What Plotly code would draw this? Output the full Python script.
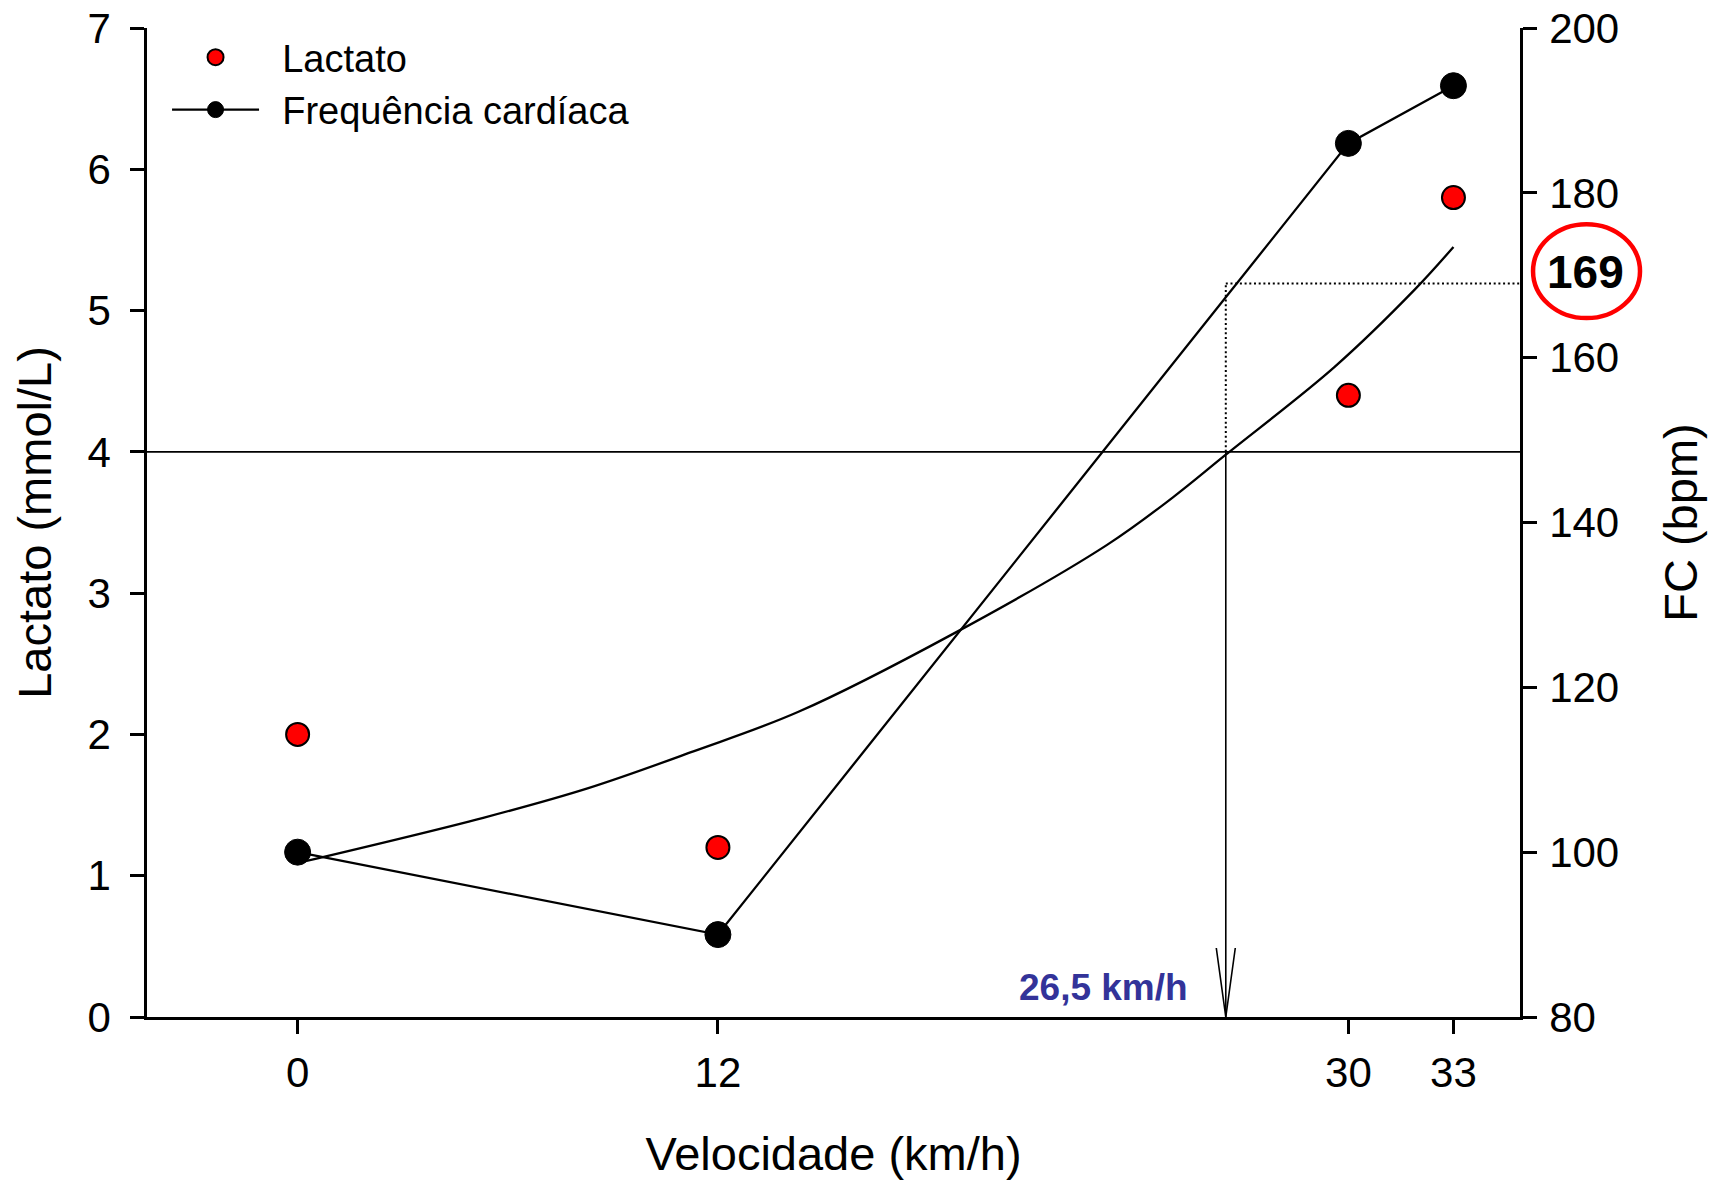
import plotly.graph_objects as go

# ---- data ----
speed = [0, 12, 30, 33]                      # km/h
lactate = [2.0, 1.2, 4.4, 5.8]               # mmol/L
heart_rate = [100, 90, 186, 193]             # bpm

# exponential fit of lactate as drawn in the reference
fit_speed = [0, 5.3, 8.3, 11.3, 14.3, 18.7, 23.1, 25.0, 26.5, 29.6, 31.9, 33.0]
fit_lactate = [1.09, 1.41, 1.62, 1.88, 2.16, 2.71, 3.34, 3.68, 3.98, 4.60, 5.15, 5.45]

threshold_lactate = 4.0
threshold_speed = 26.5
threshold_hr = 169

x_ticks = [0, 12, 30, 33]
y_ticks = [0, 1, 2, 3, 4, 5, 6, 7]
y2_ticks = [80, 100, 120, 140, 160, 180, 200]

X_RANGE = [-4.3, 34.9]
Y_RANGE = [0, 7]
Y2_RANGE = [80, 200]

FONT = "Arial, 'Liberation Sans', sans-serif"

fig = go.Figure()

fig.add_trace(go.Scatter(
    x=fit_speed, y=fit_lactate, mode="lines",
    line=dict(color="black", width=2.3, shape="spline", smoothing=1.0),
    showlegend=False, hoverinfo="skip"))

fig.add_trace(go.Scatter(
    x=speed, y=heart_rate, yaxis="y2", mode="lines+markers", name="\u00a0\u2009Frequência cardíaca",
    line=dict(color="black", width=2.3),
    marker=dict(color="black", size=26, line=dict(color="black", width=1)),
    legendrank=2))

fig.add_trace(go.Scatter(
    x=speed, y=lactate, mode="markers", name="\u00a0\u2009Lactato",
    marker=dict(color="#ff0000", size=23, line=dict(color="black", width=2)),
    legendrank=1))

# lactate = 4 converted to the right-hand axis scale
hr_at_threshold_lac = Y2_RANGE[0] + (threshold_lactate - Y_RANGE[0]) / (Y_RANGE[1] - Y_RANGE[0]) * (Y2_RANGE[1] - Y2_RANGE[0])

shapes = [
    # horizontal line at lactate 4
    dict(type="line", xref="paper", yref="y", x0=0, x1=1, y0=threshold_lactate, y1=threshold_lactate,
         line=dict(color="black", width=1.6)),
    # vertical solid line from lactate 4 to the x axis
    dict(type="line", xref="x", yref="y", x0=threshold_speed, x1=threshold_speed, y0=0, y1=threshold_lactate,
         line=dict(color="black", width=1.6)),
    # open arrow head at the x axis
    dict(type="path", xref="x", yref="y", xsizemode="pixel", ysizemode="pixel",
         xanchor=threshold_speed, yanchor=0, path="M-9.5,69 L0,0 L9.5,69",
         line=dict(color="black", width=1.6)),
    # dotted vertical up to the heart-rate line
    dict(type="line", xref="x", yref="y2", x0=threshold_speed, x1=threshold_speed,
         y0=hr_at_threshold_lac, y1=threshold_hr, line=dict(color="black", width=2, dash="2px,2.7px")),
    # dotted horizontal to the right axis
    dict(type="line", xref="x", yref="y2", x0=threshold_speed, x1=X_RANGE[1],
         y0=threshold_hr, y1=threshold_hr, line=dict(color="black", width=2, dash="2px,2.7px")),
    # red ellipse around 169
    dict(type="circle", xref="paper", yref="y2", x0=1.0095, x1=1.0874, y0=164.8, y1=176.2,
         line=dict(color="#ff0000", width=4.5)),
]

annotations = [
    dict(text="<b>26,5 km/h</b>", x=threshold_speed, y=0, xref="x", yref="y", xanchor="right", yanchor="bottom",
         xshift=-36, yshift=7.5, showarrow=False, font=dict(family=FONT, size=37, color="#333399")),
    dict(text="<b>%d</b>" % threshold_hr, x=1.048, y=threshold_hr, xref="paper", yref="y2",
         xanchor="center", yanchor="middle", yshift=11, showarrow=False,
         font=dict(family=FONT, size=46, color="black")),
]

axis_common = dict(showgrid=False, zeroline=False, showline=True, linecolor="black", linewidth=2.5,
                   ticks="outside", ticklen=14, tickwidth=2.5, tickcolor="black", automargin=False,
                   tickfont=dict(family=FONT, size=42, color="black"))

fig.update_layout(
    width=1713, height=1183,
    margin=dict(l=147, r=193, t=28, b=166),
    paper_bgcolor="white", plot_bgcolor="white",
    font=dict(family=FONT, color="black"),
    shapes=shapes, annotations=annotations,
    xaxis=dict(range=X_RANGE, tickvals=x_ticks, ticklabelstandoff=3,
               title=dict(text="Velocidade (km/h)", font=dict(family=FONT, size=47), standoff=42),
               **axis_common),
    yaxis=dict(range=Y_RANGE, tickvals=y_ticks, ticklabelstandoff=11,
               title=dict(text="Lactato (mmol/L)", font=dict(family=FONT, size=47), standoff=22),
               **axis_common),
    yaxis2=dict(range=Y2_RANGE, tickvals=y2_ticks, overlaying="y", side="right", ticklabelstandoff=4,
                title=dict(text="FC (bpm)", font=dict(family=FONT, size=47), standoff=46),
                **axis_common),
    legend=dict(x=0.0146, y=1.002, xanchor="left", yanchor="top", bgcolor="rgba(0,0,0,0)",
                itemwidth=87, font=dict(family=FONT, size=38, color="black"), tracegroupgap=0),
    showlegend=True,
)

fig.write_html("out.html")
